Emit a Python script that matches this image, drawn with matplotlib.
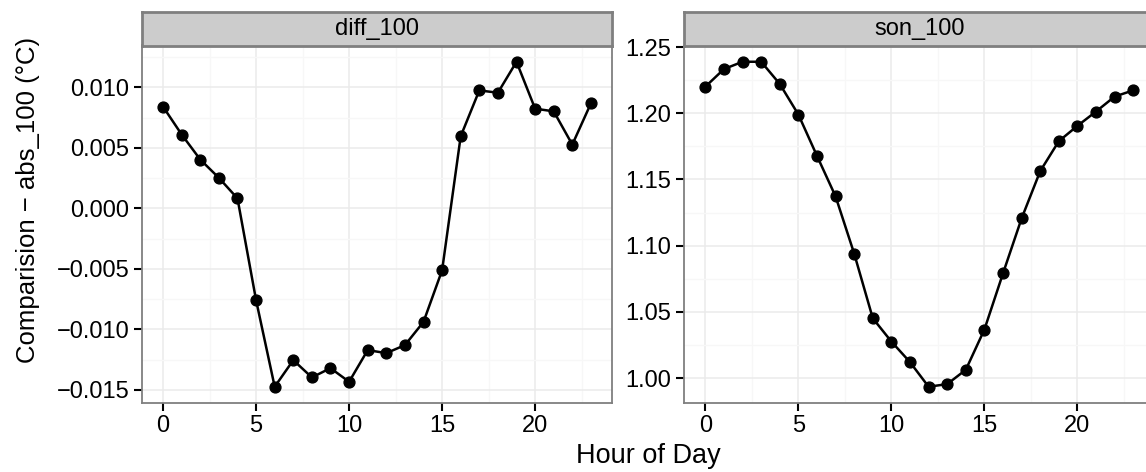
import numpy as np
import matplotlib
matplotlib.use("Agg")
import matplotlib.pyplot as plt
from matplotlib.ticker import MultipleLocator, FuncFormatter

plt.rcParams['font.family'] = ['Liberation Sans', 'DejaVu Sans']

hours = list(range(24))

diff_100 = [0.00840, 0.00610, 0.00403, 0.00252, 0.00082, -0.00760, -0.01475, -0.01255,
            -0.01398, -0.01321, -0.01434, -0.01172, -0.01197, -0.01131, -0.00939, -0.00512,
            0.00596, 0.00975, 0.00956, 0.01212, 0.00824, 0.00802, 0.00527, 0.00868]

son_100 = [1.2201, 1.2334, 1.2389, 1.2389, 1.2221, 1.1990, 1.1678, 1.1372,
           1.0940, 1.0452, 1.0276, 1.0121, 0.9935, 0.9955, 1.0063, 1.0367,
           1.0791, 1.1206, 1.1563, 1.1789, 1.1905, 1.2013, 1.2126, 1.2173]

panels = [("diff_100", diff_100, 0.005, 0.0025, 3),
          ("son_100", son_100, 0.05, 0.025, 2)]

W, H = 1146, 472
fig = plt.figure(figsize=(W / 100, H / 100), dpi=100)

panel_left = [141.7, 684.0]
panel_w = 470.6
panel_top, panel_bot = 45.5, 403.0
strip_top = 12.0

border = "#7F7F7F"


def make_fmt(nd):
    def f(v, pos):
        s = "%.*f" % (nd, v)
        if float(s) == 0:
            s = s.lstrip("-")
        return s.replace("-", "\u2212")
    return FuncFormatter(f)


for (name, vals, major, minor, nd), x0 in zip(panels, panel_left):
    ax = fig.add_axes([x0 / W, 1 - panel_bot / H, panel_w / W, (panel_bot - panel_top) / H])
    ax.plot(hours, vals, color="black", lw=1.8, marker="o", ms=7.8, zorder=3)

    # ggplot style 5% expansion
    ax.set_xlim(-1.15, 24.15)
    lo, hi = min(vals), max(vals)
    pad = (hi - lo) * 0.05
    ax.set_ylim(lo - pad, hi + pad)

    ax.xaxis.set_major_locator(MultipleLocator(5))
    ax.xaxis.set_minor_locator(MultipleLocator(2.5))
    ax.yaxis.set_major_locator(MultipleLocator(major))
    ax.yaxis.set_minor_locator(MultipleLocator(minor))
    ax.yaxis.set_major_formatter(make_fmt(nd))
    ax.set_xticks([0, 5, 10, 15, 20])

    ax.grid(which="major", color="#EBEBEB", lw=1.1, zorder=0)
    ax.grid(which="minor", color="#F7F7F7", lw=0.9, zorder=0)
    ax.set_axisbelow(True)

    for s in ax.spines.values():
        s.set_color(border)
        s.set_linewidth(1.3)

    ax.tick_params(which="major", length=6, width=1.5, color="black",
                   labelsize=17, labelcolor="black", pad=3)
    ax.tick_params(which="minor", length=0)

    # facet strip above the panel
    sax = fig.add_axes([x0 / W, 1 - panel_top / H, panel_w / W, (panel_top - strip_top) / H])
    sax.set_facecolor("#CCCCCC")
    sax.set_xticks([])
    sax.set_yticks([])
    for s in sax.spines.values():
        s.set_color(border)
        s.set_linewidth(2.0)
    sax.text(0.5, 0.5, name, ha="center", va="center", fontsize=17,
             color="black", transform=sax.transAxes)

fig.text(648 / W, 1 - 456 / H, "Hour of Day", ha="center", va="center", fontsize=19.5)
fig.text(28 / W, 1 - 200 / H, "Comparision \u2212 abs_100 (\u00b0C)", ha="center",
         va="center", rotation=90, fontsize=18.5)

fig.savefig("out.png", dpi=100)
